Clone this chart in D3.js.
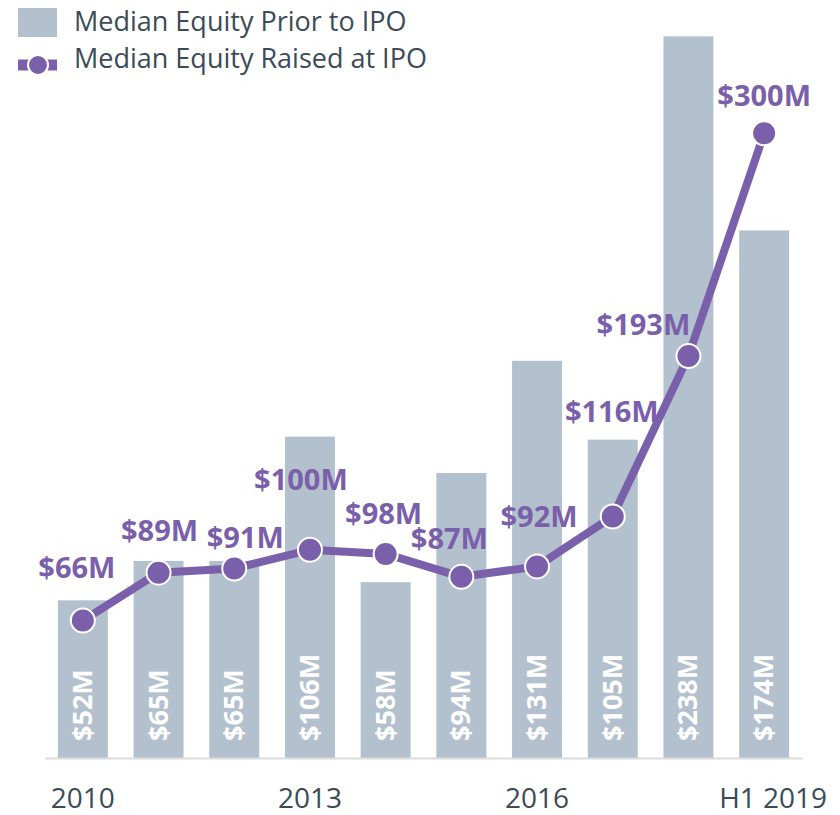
<!DOCTYPE html>
<html>
<head>
<meta charset="utf-8">
<script src="https://cdn.jsdelivr.net/npm/d3@7"></script>
<style>
  body { margin: 0; background: #fff; }
  text { font-family: "Open Sans", sans-serif; }
</style>
</head>
<body>
<script>
// categories and values
const years = ['2010', '2011', '2012', '2013', '2014', '2015', '2016', '2017', '2018', 'H1 2019'];
const priorEquity = [52, 65, 65, 106, 58, 94, 131, 105, 238, 174];
const raisedEquity = [66, 89, 91, 100, 98, 87, 92, 116, 193, 300];
const tickYears = ['2010', '2013', '2016', 'H1 2019'];

// hand placement of the line labels (dx, dy from the point)
const labelOffsets = [[-6, -43], [1, -32], [11, -21], [-9, -60], [-2, -30], [-12, -28], [2, -39], [-1, -94], [-45, -21], [0, -27]];

const barColor = '#b3c0cd';
const lineColor = '#7a5faa';
const textColor = '#3b4b57';

const width = 840, height = 815;
const baseY = 758;

const svg = d3.select('body')
              .append('svg')
              .attr('width', width)
              .attr('height', height);

const xscale = d3.scaleBand()
                .domain(years)
                .range([45, 802])
                .paddingInner(0.34)
                .paddingOuter(0.17);

const ybar = d3.scaleLinear()
              .domain([0, 250])
              .range([baseY, 0]);

const yline = d3.scaleLinear()
              .domain([0, 364])
              .range([baseY, 0]);

const cx = d => xscale(d) + xscale.bandwidth() / 2;

// bars
svg.selectAll('rect.bar')
  .data(priorEquity)
  .enter().append('rect')
  .attr('class', 'bar')
  .attr('x', (d, i) => xscale(years[i]))
  .attr('y', d => ybar(d))
  .attr('width', xscale.bandwidth())
  .attr('height', d => baseY - ybar(d))
  .attr('fill', barColor);

// labels inside bars
svg.selectAll('text.barlabel')
  .data(priorEquity)
  .enter().append('text')
  .attr('class', 'barlabel')
  .attr('transform', (d, i) => `translate(${cx(years[i]) + 9}, 741) rotate(-90)`)
  .attr('fill', '#fff')
  .attr('font-weight', 700)
  .attr('font-size', 27)
  .text(d => `$${d}M`);

// x axis
const x_axis = d3.axisBottom(xscale)
                .tickValues(tickYears)
                .tickSize(0)
                .tickPadding(0);

const gx = svg.append('g')
  .attr('transform', `translate(0, ${baseY})`)
  .call(x_axis);

gx.select('.domain').attr('stroke', '#dcdcdc').attr('stroke-width', 2);
gx.selectAll('text')
  .attr('font-family', '"Open Sans", sans-serif')
  .attr('font-size', 28)
  .attr('fill', textColor)
  .attr('dy', 0)
  .attr('y', 50);
gx.selectAll('.tick').filter(d => d === 'H1 2019').select('text').attr('dx', 9);

// line
const line = d3.line()
  .x((d, i) => cx(years[i]))
  .y(d => yline(d));

svg.append('path')
  .datum(raisedEquity)
  .attr('d', line)
  .attr('fill', 'none')
  .attr('stroke', lineColor)
  .attr('stroke-width', 8)
  .attr('stroke-linejoin', 'round');

svg.selectAll('circle.pt')
  .data(raisedEquity)
  .enter().append('circle')
  .attr('class', 'pt')
  .attr('cx', (d, i) => cx(years[i]))
  .attr('cy', d => yline(d))
  .attr('r', 12)
  .attr('fill', lineColor)
  .attr('stroke', '#fff')
  .attr('stroke-width', 2);

svg.selectAll('text.ptlabel')
  .data(raisedEquity)
  .enter().append('text')
  .attr('class', 'ptlabel')
  .attr('x', (d, i) => cx(years[i]) + labelOffsets[i][0])
  .attr('y', (d, i) => yline(d) + labelOffsets[i][1])
  .attr('text-anchor', 'middle')
  .attr('fill', lineColor)
  .attr('font-weight', 700)
  .attr('font-size', 29)
  .text(d => `$${d}M`);

// legend
const legend = svg.append('g');
legend.append('rect')
  .attr('x', 18).attr('y', 8)
  .attr('width', 39).attr('height', 29)
  .attr('fill', barColor);
legend.append('text')
  .attr('x', 74).attr('y', 31)
  .attr('font-size', 27)
  .attr('fill', textColor)
  .text('Median Equity Prior to IPO');

legend.append('line')
  .attr('x1', 18).attr('x2', 57)
  .attr('y1', 65).attr('y2', 65)
  .attr('stroke', lineColor)
  .attr('stroke-width', 11);
legend.append('circle')
  .attr('cx', 38).attr('cy', 65).attr('r', 10)
  .attr('fill', lineColor)
  .attr('stroke', '#fff')
  .attr('stroke-width', 2);
legend.append('text')
  .attr('x', 74).attr('y', 68)
  .attr('font-size', 27)
  .attr('fill', textColor)
  .text('Median Equity Raised at IPO');
</script>
</body>
</html>
